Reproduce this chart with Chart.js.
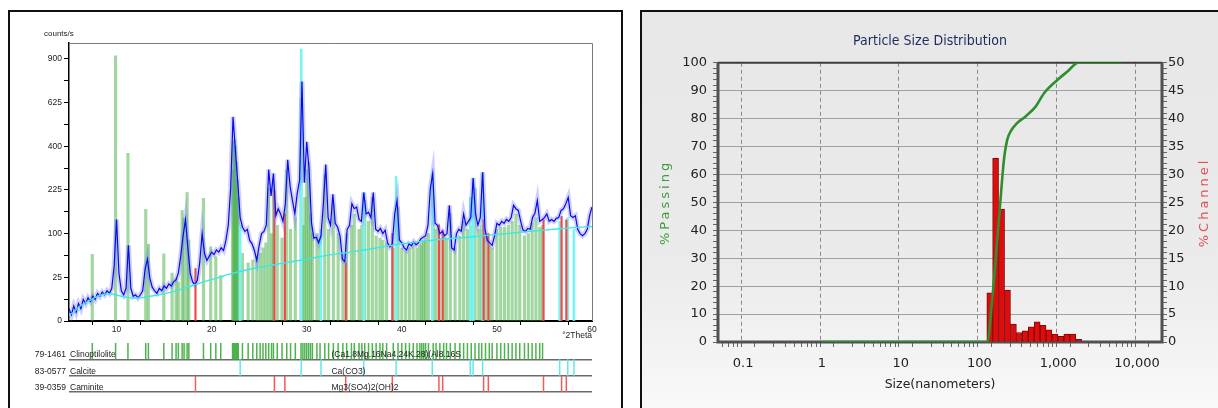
<!DOCTYPE html>
<html>
<head>
<meta charset="utf-8">
<script src="https://cdn.jsdelivr.net/npm/chart.js@4.4.1/dist/chart.umd.min.js"></script>
<style>
  html, body { margin: 0; padding: 0; background: #fff; }
  body { width: 1218px; height: 408px; position: relative; overflow: hidden; }
  .box { position: absolute; box-sizing: border-box; border: 2px solid #111; }
  #xrdBox { left: 8px; top: 10px; width: 615px; height: 430px; background: #fff; }
  #psdBox { left: 640px; top: 10px; width: 600px; height: 430px;
            background: linear-gradient(to bottom, #e7e7e7 0%, #ebebeb 60%, #f4f4f4 82%, #fdfdfd 100%); }
  canvas { position: absolute; }
  #xrdMain { left: 10px; top: 12px; }
  #xrdStrip { left: 10px; top: 340px; }
  #psdChart { left: 642px; top: 13px; }
</style>
</head>
<body>
<div class="box" id="xrdBox"></div>
<div class="box" id="psdBox"></div>
<canvas id="xrdMain" width="610" height="330"></canvas>
<canvas id="xrdStrip" width="610" height="62"></canvas>
<canvas id="psdChart" width="576" height="395"></canvas>
<script>
// ---- XRD scan (counts/s every 0.25 deg 2Theta from 5 to 60) ----
const scanStart = 5;
const scanStep = 0.25;
const scanCounts = [
  2, 0.5, 3, 1, 4, 2, 6, 4,
  7, 5, 8, 6, 10, 8, 11, 9,
  12, 10, 14, 40, 135, 30, 12, 9,
  14, 75, 14, 8, 9, 7, 9, 12,
  35, 50, 24, 15, 12, 10, 14, 12,
  16, 14, 18, 16, 20, 22, 30, 55,
  95, 135, 70, 30, 20, 17, 22, 45,
  100, 60, 48, 55, 62, 58, 66, 62,
  70, 65, 85, 120, 230, 545, 380, 250,
  140, 115, 105, 110, 85, 78, 65, 48,
  75, 100, 105, 120, 300, 205, 285, 145,
  165, 150, 130, 180, 340, 237, 190, 150,
  213, 260, 750, 250, 420, 300, 126, 90,
  92, 80, 95, 180, 320, 140, 120, 210,
  125, 115, 95, 50, 46, 110, 120, 180,
  165, 170, 135, 130, 216, 150, 155, 140,
  216, 110, 105, 112, 100, 108, 80, 72,
  78, 150, 190, 86, 80, 70, 66, 78,
  74, 82, 76, 80, 88, 92, 95, 120,
  230, 286, 125, 120, 100, 105, 95, 100,
  175, 70, 66, 100, 110, 105, 150, 120,
  130, 140, 267, 150, 120, 140, 289, 110,
  85, 80, 75, 95, 125, 120, 130, 125,
  135, 130, 140, 175, 165, 160, 130, 108,
  105, 112, 110, 140, 152, 190, 130, 134,
  140, 150, 130, 135, 130, 138, 140, 160,
  165, 180, 200, 145, 140, 145, 110, 100,
  95, 100, 110, 145, 170
];

// background curve
const bgTheta = [5, 5.5, 6, 7, 8, 8.8, 9.5, 10.5, 11.5, 12.5, 13.5, 14.5, 15.5, 16.5, 17.5, 18.5, 19.5, 20.5, 22, 24,
  26, 28, 30, 32, 34, 36, 38, 40, 42, 44, 46, 48, 50, 52, 54, 56, 58, 60];
const bgCounts = [0.5, 1, 2.5, 5, 8, 9.5, 9.5, 8, 7, 7, 8, 9, 10.5, 12.5, 15, 18, 21, 24, 29, 35,
  40, 45, 50, 56, 61, 66, 72, 78, 83, 87, 90, 94, 98, 102, 106, 110, 114, 117];

// reference patterns
const clinoTheta = [7.45, 9.9, 11.2, 13.07, 13.35, 14.97, 15.84, 16.26, 16.5, 16.9, 17.1, 17.42, 17.6, 19.14, 19.9, 20.44, 20.96,
  22.2, 22.3, 22.4, 22.5, 22.6, 22.7, 22.8, 23.24, 23.84, 24.33, 24.75, 25.1, 25.4, 25.7, 26.0, 26.3, 26.5, 26.9, 27.4, 27.9,
  28.3, 28.8, 29.4, 29.6, 29.8, 30.0, 30.2, 30.4, 30.6, 31.07, 31.4, 31.9, 32.3, 32.8, 33.3, 33.8, 34.2, 34.7, 35.0, 35.5,
  35.8, 36.1, 36.5, 36.9, 37.3, 37.7, 38.0, 38.4, 39.1, 39.6, 40.0, 40.4, 40.8, 41.2, 41.6, 41.9, 42.1, 42.3, 42.5, 42.8,
  43.3, 43.6, 44.0, 44.4, 44.7, 45.1, 45.6, 46.1, 46.5, 46.9, 47.3, 47.7, 48.1, 48.4, 48.8, 49.2, 49.5, 50.0, 50.4, 50.8,
  51.2, 51.6, 52.0, 52.4, 52.9, 53.3, 53.7, 54.1, 54.5, 54.8];
const clinoCounts = [58, 920, 368, 163, 77, 59, 30, 24, 20, 160, 138, 216, 86, 197, 72, 54, 27,
  300, 420, 430, 400, 330, 260, 200, 60, 44, 49, 54, 60, 70, 80, 230, 100, 250, 120, 90, 300,
  110, 140, 650, 120, 200, 300, 330, 150, 100, 100, 90, 280, 110, 180, 100, 60, 100, 120, 150, 110,
  120, 190, 130, 200, 95, 90, 85, 80, 70, 170, 70, 65, 70, 75, 70, 75, 80, 85, 90, 100,
  200, 110, 90, 95, 90, 150, 70, 95, 130, 110, 120, 230, 110, 120, 100, 75, 70, 110, 115, 115,
  120, 130, 150, 120, 95, 100, 125, 140, 115, 120];
const calciteTheta = [23.0, 29.42, 31.5, 36.0, 39.4, 43.2, 47.2, 47.5, 48.5, 56.6, 57.45, 58.1];
const calciteCounts = [120, 967, 110, 216, 273, 286, 200, 267, 289, 130, 140, 110];
const caminiteTheta = [18.3, 26.6, 27.7, 34.1, 39.0, 43.9, 44.3, 48.6, 49.1, 54.9, 56.8, 57.3];
const caminiteCounts = [36, 225, 150, 44, 100, 121, 108, 134, 100, 134, 143, 134];

const countTicks = [0, 25, 100, 225, 400, 625, 900];

const phaseCodes = ['79-1461', '83-0577', '39-0359'];
const phaseNames = ['Clinoptilolite', 'Calcite', 'Caminite'];
const phaseFormulas = ['(Ca1.8Mg.16Na4.24K.28)(Al8.16S', 'Ca(CO3)', 'Mg3(SO4)2(OH)2'];

// ---- particle size distribution ----
const sizeNm = [1, 125, 145, 172, 185, 204, 225, 250, 300, 385, 516, 660, 980, 1310, 1800, 6500];
const passingPct = [0, 0, 15, 40, 51, 65, 72.4, 75.5, 78.4, 80.8, 84.3, 89.1, 93.9, 96.9, 100, 100];
const binNm = [135, 160, 191, 227, 270, 321, 382, 454, 540, 642, 763, 907, 1079, 1283, 1526, 1815];
const channelPct = [8.8, 32.9, 23.8, 9.3, 3.2, 1.7, 2.0, 2.7, 3.6, 3.0, 2.2, 1.4, 1.0, 1.4, 1.4, 0.5];
const sizeTicks = [0.1, 1, 10, 100, 1000, 10000];

const narrow = "'Liberation Sans Narrow', 'Liberation Sans', Arial, sans-serif";
const dejavu = "'DejaVu Sans', Verdana, sans-serif";

function pairs(xs, ys, f) {
  const out = [];
  for (let i = 0; i < Math.min(xs.length, ys.length); i++) out.push({ x: xs[i], y: f(ys[i]) });
  return out;
}

const scan = scanCounts.map((c, i) => ({ x: scanStart + i * scanStep, y: Math.sqrt(c) }));

const xrdDecor = {
  id: 'xrdDecor',
  afterDraw(chart) {
    const { ctx, chartArea: a } = chart;
    ctx.save();
    ctx.strokeStyle = '#7a7a7a';
    ctx.lineWidth = 1;
    ctx.beginPath();
    ctx.moveTo(a.left, a.top + 0.5);
    ctx.lineTo(a.right + 0.5, a.top + 0.5);
    ctx.lineTo(a.right + 0.5, a.bottom);
    ctx.stroke();
    ctx.fillStyle = '#222';
    ctx.font = '8px ' + narrow;
    ctx.textBaseline = 'alphabetic';
    ctx.fillText('counts/s', a.left - 25, a.top - 7);
    ctx.restore();
  }
};

new Chart(document.getElementById('xrdMain'), {
  type: 'line',
  data: {
    datasets: [
      { label: 'Background', data: pairs(bgTheta, bgCounts, Math.sqrt), borderColor: '#40e6e6',
        borderWidth: 1.4, pointRadius: 0, tension: 0.4, order: 0 },
      { label: 'Scan', data: scan, borderColor: '#0a0ae8', borderWidth: 1.2, pointRadius: 0, order: 1 },
      { label: 'Scan band', data: scan, borderColor: 'rgba(120,120,255,0.35)', borderWidth: 5,
        pointRadius: 0, order: 2 },
      { type: 'bar', label: 'Caminite', data: pairs(caminiteTheta, caminiteCounts, Math.sqrt),
        backgroundColor: '#f04848', barThickness: 1.5, grouped: false, order: 3 },
      { type: 'bar', label: 'Calcite', data: pairs(calciteTheta, calciteCounts, Math.sqrt),
        backgroundColor: '#78f4f4', barThickness: 2, grouped: false, order: 4 },
      { type: 'bar', label: 'Clinoptilolite', data: pairs(clinoTheta, clinoCounts, Math.sqrt),
        backgroundColor: 'rgba(70,175,70,0.5)', barThickness: 2.5, grouped: false, order: 5 }
    ]
  },
  options: {
    responsive: false,
    animation: false,
    layout: { padding: { top: 31, right: 28, left: 0, bottom: 0 } },
    plugins: { legend: { display: false }, tooltip: { enabled: false } },
    scales: {
      x: {
        type: 'linear', min: 5, max: 60, offset: false,
        afterFit: s => { s.height = 21; },
        border: { display: true, color: '#000', width: 2 },
        grid: { drawOnChartArea: false, drawTicks: true, tickLength: 4, color: '#000' },
        ticks: { stepSize: 5, autoSkip: false, maxRotation: 0, padding: 0, color: '#222',
          font: { family: narrow, size: 8.5 }, callback: v => (v % 10 === 0 ? v : '') },
        title: { display: true, text: '°2Theta', align: 'end', color: '#222',
          font: { family: narrow, size: 8.5 }, padding: { top: 0, bottom: 1 } }
      },
      y: {
        min: 0, max: 31.8,
        afterFit: s => { s.width = 59; },
        border: { display: true, color: '#000', width: 1.5 },
        grid: { drawOnChartArea: false, drawTicks: true, tickLength: 5, color: '#000' },
        ticks: { stepSize: 2.5, autoSkip: false, includeBounds: false, padding: 2, color: '#222',
          font: { family: narrow, size: 8.5 },
          callback: v => { const c = Math.round(v * v); return (v % 5 === 0 && countTicks.includes(c)) ? c : ''; } }
      }
    }
  },
  plugins: [xrdDecor]
});

const phaseColors = ['#4db34d', '#5fe8ee', '#f05a5a'];
const phaseSticks = [clinoTheta, calciteTheta, caminiteTheta];

const stripText = {
  id: 'stripText',
  afterDraw(chart) {
    const { ctx, chartArea: a, scales } = chart;
    ctx.save();
    ctx.fillStyle = '#222';
    ctx.font = '8.5px ' + narrow;
    phaseCodes.forEach((code, i) => {
      const yb = scales.y.getPixelForValue(i + 1) - 2;
      ctx.textAlign = 'right';
      ctx.fillText(code, a.left - 3, yb);
      ctx.textAlign = 'left';
      ctx.fillText(phaseNames[i], a.left + 1, yb);
      ctx.fillText(phaseFormulas[i], scales.x.getPixelForValue(32.6), yb);
    });
    ctx.restore();
  }
};

new Chart(document.getElementById('xrdStrip'), {
  type: 'scatter',
  data: {
    datasets: phaseSticks.map((list, i) => ({
      label: phaseNames[i],
      data: list.map(t => ({ x: t, y: i + 0.5 })),
      pointStyle: 'line',
      rotation: 90,
      radius: ctx => {
        const s = ctx.chart.scales.y;
        return s ? Math.abs(s.getPixelForValue(1) - s.getPixelForValue(0)) / 2 : 8;
      },
      borderColor: phaseColors[i],
      borderWidth: 1.5
    }))
  },
  options: {
    responsive: false,
    animation: false,
    layout: { padding: { top: 3, right: 28, left: 0, bottom: 10 } },
    plugins: { legend: { display: false }, tooltip: { enabled: false } },
    scales: {
      x: { type: 'linear', min: 5, max: 60, display: false },
      y: {
        min: 0, max: 3, reverse: true,
        afterFit: s => { s.width = 59; },
        border: { display: false },
        grid: { drawTicks: false, lineWidth: 1.5,
          color: c => (c.tick && c.tick.value === 0 ? 'rgba(0,0,0,0)' : '#6a6a6a') },
        ticks: { display: false, stepSize: 1 }
      }
    }
  },
  plugins: [stripText]
});

// ---- PSD ----
const psdFrame = {
  id: 'psdFrame',
  beforeDatasetsDraw(chart) {
    const { ctx, chartArea: a } = chart;
    ctx.save();
    ctx.strokeStyle = '#3c3c3c';
    ctx.lineWidth = 2;
    ctx.beginPath();
    ctx.moveTo(a.left, a.top);
    ctx.lineTo(a.right, a.top);
    ctx.stroke();
    ctx.strokeStyle = '#505050';
    ctx.lineWidth = 3;
    ctx.beginPath();
    ctx.moveTo(a.left, a.top);
    ctx.lineTo(a.left, a.bottom);
    ctx.lineTo(a.right, a.bottom);
    ctx.lineTo(a.right, a.top);
    ctx.stroke();
    ctx.restore();
  },
  afterDraw(chart) {
    const { ctx, chartArea: a } = chart;
    const cy = (a.top + a.bottom) / 2;
    ctx.save();
    ctx.font = '13px ' + dejavu;
    ctx.textAlign = 'center';
    ctx.textBaseline = 'middle';
    ctx.letterSpacing = '3px';
    ctx.translate(a.left - 52, cy);
    ctx.rotate(-Math.PI / 2);
    ctx.fillStyle = '#3d9e3d';
    ctx.fillText('%Passing', 0, 0);
    ctx.restore();
    ctx.save();
    ctx.font = '13px ' + dejavu;
    ctx.textAlign = 'center';
    ctx.textBaseline = 'middle';
    ctx.letterSpacing = '3px';
    ctx.translate(a.right + 43, cy);
    ctx.rotate(-Math.PI / 2);
    ctx.fillStyle = '#e05252';
    ctx.fillText('%Channel', 0, 0);
    ctx.restore();
  }
};

const sizeGrid = [];
for (let e = -2; e <= 4; e++) {
  for (let k = 1; k <= 9; k++) {
    const v = k * Math.pow(10, e);
    if (v >= 0.048 && v <= 20750) sizeGrid.push(v);
  }
}
const isDecade = v => sizeTicks.some(t => Math.abs(t - v) < t * 1e-6);

new Chart(document.getElementById('psdChart'), {
  type: 'bar',
  data: {
    datasets: [
      { type: 'line', label: '%Passing', data: pairs(sizeNm, passingPct, v => v), yAxisID: 'yL',
        borderColor: '#2f8f2f', borderWidth: 2.6, pointRadius: 0, cubicInterpolationMode: 'monotone', order: 0 },
      { type: 'bar', label: '%Channel', data: pairs(binNm, channelPct, v => v), yAxisID: 'yR',
        backgroundColor: '#e00c0c', borderColor: '#7a0a0a', borderWidth: 1,
        barThickness: 'flex', barPercentage: 1, categoryPercentage: 1, order: 1 }
    ]
  },
  options: {
    responsive: false,
    animation: false,
    layout: { padding: 0 },
    plugins: {
      legend: { display: false },
      tooltip: { enabled: false },
      title: { display: true, text: 'Particle Size Distribution', color: '#1b2a5e',
        font: { family: "'DejaVu Sans Condensed', 'DejaVu Sans', sans-serif", size: 14, weight: 'normal' },
        padding: { top: 20, bottom: 13 } }
    },
    scales: {
      x: {
        type: 'logarithmic', min: 0.048, max: 20750, offset: false,
        afterBuildTicks: s => { s.ticks = sizeGrid.map(v => ({ value: v })); },
        afterFit: s => { s.height = 66; },
        border: { display: false, dash: [4, 3] },
        grid: { drawTicks: true, tickLength: 5, tickColor: '#666', lineWidth: 1,
          color: c => (c.tick && isDecade(c.tick.value) ? '#8a8a8a' : 'rgba(0,0,0,0)') },
        ticks: { autoSkip: false, maxRotation: 0, padding: 9, color: '#222',
          font: { family: dejavu, size: 13 },
          callback: v => (isDecade(v) ? v.toLocaleString('en-US') : '') },
        title: { display: true, text: 'Size(nanometers)', color: '#222',
          font: { family: dejavu, size: 12.5 }, padding: { top: 0, bottom: 16 } }
      },
      yL: {
        position: 'left', min: 0, max: 100,
        afterFit: s => { s.width = 76; },
        border: { display: false },
        grid: { drawTicks: true, tickLength: 5, tickColor: '#666', lineWidth: 1,
          color: c => (c.tick && c.tick.value % 10 === 0 ? '#a0a0a0' : 'rgba(0,0,0,0)') },
        ticks: { stepSize: 2, autoSkip: false, padding: 6, color: '#222',
          font: { family: dejavu, size: 13 }, callback: v => (v % 10 === 0 ? v : '') }
      },
      yR: {
        position: 'right', min: 0, max: 50,
        afterFit: s => { s.width = 56; },
        border: { display: false },
        grid: { drawOnChartArea: false, drawTicks: true, tickLength: 5, color: '#666' },
        ticks: { stepSize: 1, autoSkip: false, padding: 1, color: '#222',
          font: { family: dejavu, size: 13 }, callback: v => (v % 5 === 0 ? v : '') }
      }
    }
  },
  plugins: [psdFrame]
});
</script>
</body>
</html>
